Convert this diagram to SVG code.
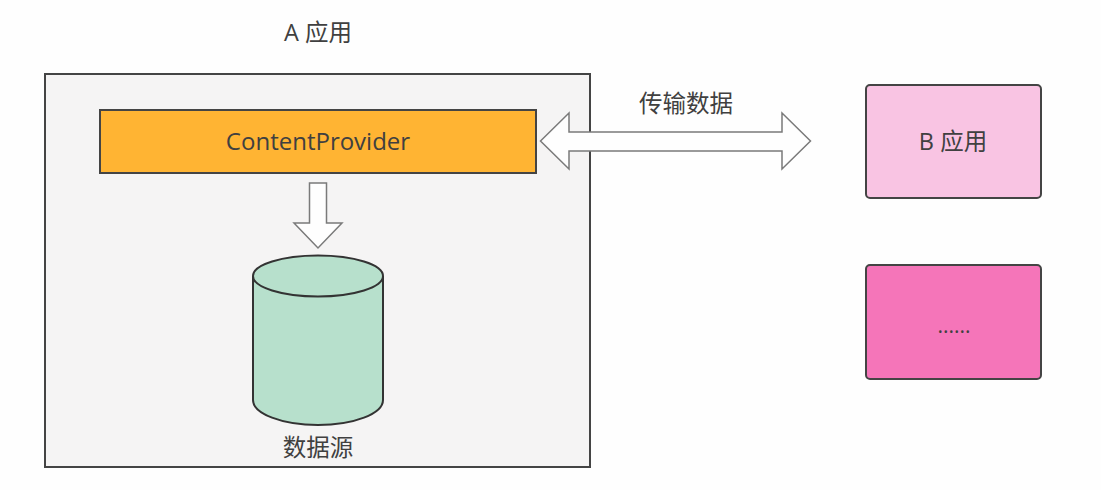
<svg xmlns="http://www.w3.org/2000/svg" width="1101" height="490" viewBox="0 0 1101 490">
<style>
text{font-family:"Open Sans","Noto Sans CJK SC",sans-serif;fill:#404040;text-anchor:middle;font-size:23.500px}
.box{stroke:#444;stroke-width:2}
.arrow{fill:#fefefe;stroke:#7a7a7a;stroke-width:1.500;stroke-linejoin:miter}
</style>
<rect width="1101" height="490" fill="#fefefe"/>
<g id="app-a">
<rect class="box" x="45" y="74" width="545" height="393" fill="#f5f4f4"/>
<text x="318" y="41">A 应用</text>
</g>
<g id="content-provider">
<rect class="box" x="100" y="110" width="436" height="63" fill="#ffb433"/>
<text x="318" y="150" style="font-size:24px">ContentProvider</text>
</g>
<g id="data-source">
<path d="M253 276V400A65 25 0 0 0 383 400V276" fill="#b7e0cc" stroke="#333" stroke-width="2"/>
<ellipse cx="318" cy="276" rx="65" ry="20.500" fill="#b7e0cc" stroke="#333" stroke-width="2"/>
<text x="318" y="456">数据源</text>
</g>
<g id="app-b">
<rect class="box" x="866" y="85" width="175" height="113" rx="4" fill="#f9c4e3"/>
<text x="953" y="150">B 应用</text>
</g>
<g id="app-more">
<rect class="box" x="866" y="265" width="175" height="114" rx="4" fill="#f575b9"/>
<text x="954" y="333" style="font-size:21px">......</text>
</g>
<g id="connectors">
<path class="arrow" d="M309.500 183H326.500V223H342L318 248L294 223H309.500Z"/>
<path class="arrow" d="M540.500 141L569 113V132H782V113L810.500 141L782 169V151H569V169Z"/>
<text x="686" y="112">传输数据</text>
</g>
</svg>
